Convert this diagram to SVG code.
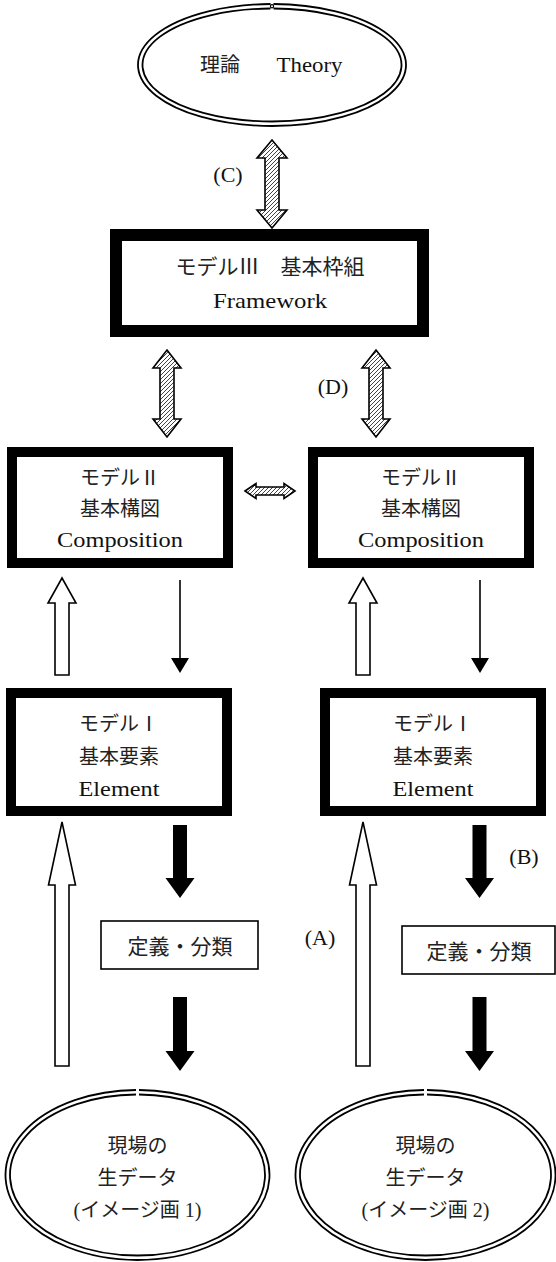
<svg xmlns="http://www.w3.org/2000/svg" width="556" height="1262" viewBox="0 0 556 1262">
<defs>
<pattern id="hatch" patternUnits="userSpaceOnUse" width="4" height="4">
<rect width="4" height="4" fill="#fff"/>
<path d="M-1,5 L5,-1 M-1,1 L1,-1 M3,5 L5,3" stroke="#444" stroke-width="1"/>
</pattern>
<style>
.dbl{fill:none;stroke:#000;stroke-width:1.8}
.thick{fill:#fff;stroke:#000}
.thin{fill:#fff;stroke:#000;stroke-width:1.6}
.hatch{fill:url(#hatch);stroke:#000;stroke-width:1.6;stroke-linejoin:miter}
.hollow{fill:#fff;stroke:#000;stroke-width:1.6}
.solid{fill:#000;stroke:none}
.jp{font-family:"Liberation Serif","Noto Sans CJK JP",serif;font-size:20px;fill:#222;text-anchor:middle}
.en{font-family:"Liberation Serif",serif;font-size:22px;fill:#111;text-anchor:middle}
.lbl{font-family:"Liberation Serif",serif;font-size:22px;fill:#111;text-anchor:middle}
</style>
</defs>
<rect width="556" height="1262" fill="#fff"/>

<g id="connectors">
<polygon class="hatch" points="272,140 287,158 279,158 279,210 287,210 272,228 257,210 265,210 265,158 257,158"/>
<polygon class="hatch" points="167,350 181,368 174,368 174,419 181,419 167,437 153,419 160,419 160,368 153,368"/>
<polygon class="hatch" points="376,350 390,368 383,368 383,419 390,419 376,437 362,419 369,419 369,368 362,368"/>
<polygon class="hatch" points="245,491 256,483.5 256,487 284,487 284,483.5 295,491 284,498.5 284,495 256,495 256,498.5"/>
<polygon class="hollow" points="62,578 76,603 69,603 69,675 55,675 55,603 48,603"/>
<polygon class="hollow" points="363,578 377,603 370,603 370,675 356,675 356,603 349,603"/>
<line x1="180" y1="580" x2="180" y2="660" stroke="#000" stroke-width="1.6"/>
<polygon class="solid" points="171,658 189,658 180,673"/>
<line x1="480" y1="580" x2="480" y2="660" stroke="#000" stroke-width="1.6"/>
<polygon class="solid" points="471,658 489,658 480,673"/>
<polygon class="hollow" points="62,822 75.5,885 69,885 69,1066 55,1066 55,885 48.5,885"/>
<polygon class="hollow" points="363,822 376.5,885 370,885 370,1066 356,1066 356,885 349.5,885"/>
<polygon class="solid" points="173,825 187,825 187,878 194.5,878 180,898 165.5,878 173,878"/>
<polygon class="solid" points="173,997 187,997 187,1051 194.5,1051 180,1071 165.5,1051 173,1051"/>
<polygon class="solid" points="472.5,825 486.5,825 486.5,878 494,878 479.5,898 465,878 472.5,878"/>
<polygon class="solid" points="472.5,997 486.5,997 486.5,1051 494,1051 479.5,1071 465,1051 472.5,1051"/>
<text class="lbl" x="228" y="182">(C)</text>
<text class="lbl" x="333" y="394">(D)</text>
<text class="lbl" x="320" y="945">(A)</text>
<text class="lbl" x="524" y="864">(B)</text>
</g>

<g id="theory">
<path class="dbl" d="M273.5,4 A134,61 0 1 1 270.5,4"/>
<path class="dbl" d="M273.5,8.5 A129.5,56.5 0 1 1 270.5,8.5"/>
<circle cx="272" cy="6.3" r="1.6" fill="#fff" stroke="#000" stroke-width="1.2"/>
<text class="jp" x="200" y="72" style="text-anchor:start">理論</text>
<text class="en" x="276.5" y="72" style="text-anchor:start" textLength="66" lengthAdjust="spacingAndGlyphs">Theory</text>
</g>

<g id="model3">
<rect class="thick" x="116" y="235" width="307" height="96" stroke-width="12"/>
<text class="jp" x="270" y="274" style="font-size:21px">モデルⅢ　基本枠組</text>
<text class="en" x="270" y="308" textLength="114" lengthAdjust="spacingAndGlyphs">Framework</text>
</g>

<g id="model2-left">
<rect class="thick" x="12" y="452" width="216" height="111" stroke-width="10"/>
<text class="jp" x="120" y="485">モデルⅡ</text>
<text class="jp" x="120" y="516">基本構図</text>
<text class="en" x="120" y="547" textLength="126" lengthAdjust="spacingAndGlyphs">Composition</text>
</g>

<g id="model2-right">
<rect class="thick" x="313" y="452" width="216" height="111" stroke-width="10"/>
<text class="jp" x="421" y="485">モデルⅡ</text>
<text class="jp" x="421" y="516">基本構図</text>
<text class="en" x="421" y="547" textLength="126" lengthAdjust="spacingAndGlyphs">Composition</text>
</g>

<g id="model1-left">
<rect class="thick" x="11" y="693" width="216" height="118" stroke-width="10"/>
<text class="jp" x="119" y="731">モデルⅠ</text>
<text class="jp" x="119" y="764">基本要素</text>
<text class="en" x="119" y="796" textLength="81" lengthAdjust="spacingAndGlyphs">Element</text>
</g>

<g id="model1-right">
<rect class="thick" x="325" y="693" width="216" height="118" stroke-width="10"/>
<text class="jp" x="433" y="731">モデルⅠ</text>
<text class="jp" x="433" y="764">基本要素</text>
<text class="en" x="433" y="796" textLength="81" lengthAdjust="spacingAndGlyphs">Element</text>
</g>

<g id="classify-left">
<rect class="thin" x="101" y="921" width="157" height="48"/>
<text class="jp" x="180" y="954" style="font-size:21px">定義・分類</text>
</g>

<g id="classify-right">
<rect class="thin" x="402" y="926" width="153" height="48"/>
<text class="jp" x="479" y="959" style="font-size:21px">定義・分類</text>
</g>

<g id="data1">
<path class="dbl" d="M139,1090 A132,85 0 1 1 136,1090"/>
<path class="dbl" d="M139,1094.5 A127.5,80.5 0 1 1 136,1094.5"/>
<text class="jp" x="137.5" y="1153">現場の</text>
<text class="jp" x="137.5" y="1185">生データ</text>
<text class="jp" x="137.5" y="1217">(イメージ画 1)</text>
</g>

<g id="data2">
<path class="dbl" d="M427,1090 A130,85 0 1 1 424,1090"/>
<path class="dbl" d="M427,1094.5 A125.5,80.5 0 1 1 424,1094.5"/>
<text class="jp" x="425.5" y="1153">現場の</text>
<text class="jp" x="425.5" y="1185">生データ</text>
<text class="jp" x="425.5" y="1217">(イメージ画 2)</text>
</g>
</svg>
